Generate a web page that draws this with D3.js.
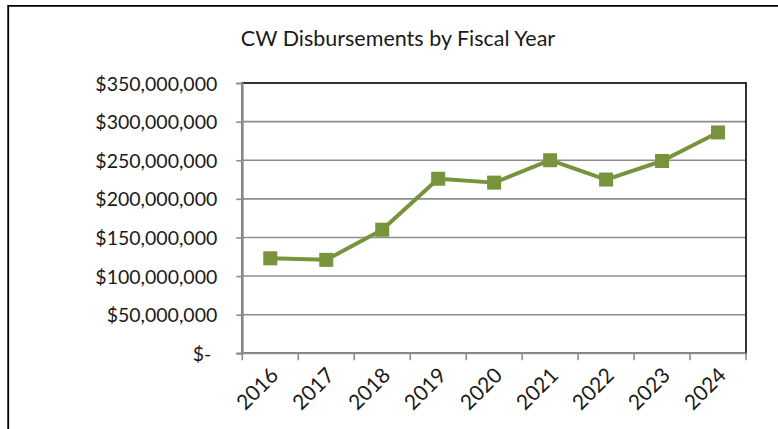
<!DOCTYPE html>
<html>
<head>
<meta charset="utf-8">
<script src="https://cdn.jsdelivr.net/npm/d3@7"></script>
<style>
  html, body { margin: 0; padding: 0; background: #fff; }
  svg { display: block; }
  text { font-family: Lato, "Open Sans", sans-serif; fill: #1a1a1a; }
</style>
</head>
<body>
<svg id="chart" width="778" height="429"></svg>
<script>
// Fiscal years and total disbursements (USD)
const years = ["2016", "2017", "2018", "2019", "2020", "2021", "2022", "2023", "2024"];
const disbursements = [123000000, 121000000, 160000000, 226000000, 221000000, 250000000, 225000000, 249000000, 286000000];
const yTicks = [0, 50000000, 100000000, 150000000, 200000000, 250000000, 300000000, 350000000];
const chartTitle = "CW Disbursements by Fiscal Year";

const W = 778, H = 429;
const margin = { left: 242.3, right: W - 746, top: 83, bottom: H - 353.3 };
const lineColor = "#77933C";
const gridColor = "#8C8C8C";

const svg = d3.select("#chart");

// Outer chart frame (extends past the right and bottom edges)
svg.append("path")
  .attr("d", `M8.2,${H + 5} L8.2,5.8 L${W + 5},5.8`)
  .attr("fill", "none")
  .attr("stroke", "#000")
  .attr("stroke-width", 1.8);

const x = d3.scaleBand()
  .domain(years)
  .range([margin.left, W - margin.right])
  .padding(0);

const y = d3.scaleLinear()
  .domain([0, 350000000])
  .range([H - margin.bottom, margin.top]);

// Title, centred over the chart area
svg.append("text")
  .attr("x", 398)
  .attr("y", 46)
  .attr("text-anchor", "middle")
  .style("font-size", "21.5px")
  .text(chartTitle);

// Horizontal gridlines
svg.append("g")
  .selectAll("line")
  .data(yTicks.filter(d => d > 0 && d < 350000000))
  .join("line")
  .attr("x1", margin.left)
  .attr("x2", W - margin.right)
  .attr("y1", d => y(d))
  .attr("y2", d => y(d))
  .attr("stroke", gridColor)
  .attr("stroke-width", 1.6);

// Plot area border (black)
svg.append("rect")
  .attr("x", margin.left)
  .attr("y", margin.top)
  .attr("width", W - margin.right - margin.left)
  .attr("height", H - margin.bottom - margin.top)
  .attr("fill", "none")
  .attr("stroke", "#000")
  .attr("stroke-width", 1.6);

const fmt = d => d === 0 ? "$-" : "$" + d3.format(",")(d);

// Y axis
const yAxis = svg.append("g")
  .attr("transform", `translate(${margin.left},0)`)
  .call(d3.axisLeft(y).tickValues(yTicks).tickFormat(fmt).tickSize(6).tickPadding(19));
yAxis.select(".domain").attr("stroke", gridColor).attr("stroke-width", 1.6);
yAxis.selectAll(".tick line").attr("stroke", gridColor).attr("stroke-width", 1.6);
yAxis.selectAll(".tick text")
  .style("font-size", "19.5px")
  .style("font-family", "Lato, 'Open Sans', sans-serif")
  .attr("fill", "#1a1a1a")
  .attr("dy", "0.36em");
// "$-" label sits a little left of the others
yAxis.selectAll(".tick text").filter(d => d === 0).attr("dx", -6);

// X axis: category ticks at band boundaries
const xAxisG = svg.append("g")
  .attr("transform", `translate(0,${H - margin.bottom})`);
xAxisG.append("line")
  .attr("x1", margin.left - 6).attr("x2", W - margin.right)
  .attr("stroke", gridColor).attr("stroke-width", 1.6);
const bounds = years.map(d => x(d)).concat([x(years[years.length - 1]) + x.bandwidth()]);
xAxisG.selectAll("line.tk")
  .data(bounds)
  .join("line")
  .attr("class", "tk")
  .attr("x1", d => d).attr("x2", d => d)
  .attr("y1", 0).attr("y2", 7)
  .attr("stroke", gridColor).attr("stroke-width", 1.6);
xAxisG.selectAll("text")
  .data(years)
  .join("text")
  .attr("transform", d => `translate(${x(d) + x.bandwidth() / 2 - 1},${13}) rotate(-45)`)
  .attr("text-anchor", "end")
  .attr("dy", "0.7em")
  .style("font-size", "21px")
  .text(d => d);

// Series line
const pts = years.map((yr, i) => [x(yr) + x.bandwidth() / 2, y(disbursements[i])]);
svg.append("path")
  .datum(pts)
  .attr("d", d3.line())
  .attr("fill", "none")
  .attr("stroke", lineColor)
  .attr("stroke-width", 4)
  .attr("stroke-linejoin", "round");

// Square markers
const ms = 14;
svg.append("g")
  .selectAll("rect")
  .data(pts)
  .join("rect")
  .attr("x", d => d[0] - ms / 2)
  .attr("y", d => d[1] - ms / 2)
  .attr("width", ms)
  .attr("height", ms)
  .attr("fill", lineColor);
</script>
</body>
</html>
